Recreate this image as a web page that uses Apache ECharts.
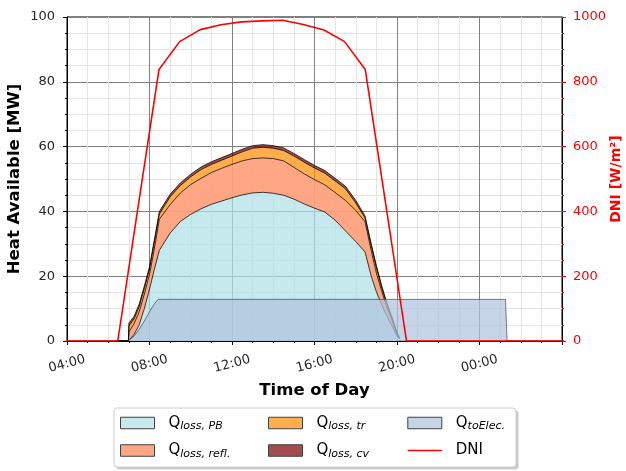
<!DOCTYPE html>
<html>
<head>
<meta charset="utf-8">
<script src="https://cdn.jsdelivr.net/npm/echarts/dist/echarts.min.js"></script>
<style>
  html, body { margin: 0; padding: 0; background: #ffffff; }
  #chart { width: 626px; height: 471px; }
</style>
</head>
<body>
<div id="chart"></div>
<script>
// Time of day in hours (values past 24 belong to the next day)
const heatHours = [6.46, 6.98, 7.0, 7.25, 7.5, 7.75, 8.0, 8.25, 8.48, 9.0, 9.5, 10.0, 10.5, 11.0, 11.5, 12.0,
  12.5, 13.0, 13.5, 14.0, 14.5, 15.0, 15.5, 16.0, 16.5, 17.0, 17.5, 18.0, 18.45, 18.75, 19.0, 19.25, 19.5,
  19.75, 20.0, 20.12];

// Stacked heat layers [MW]
const qLossPB = [0, 0, 0.3, 2.0, 5.0, 10.0, 16.0, 22.5, 28.0, 33.3, 36.9, 39.1, 40.8, 42.2, 43.2, 44.2,
  45.1, 45.7, 45.9, 45.6, 45.0, 43.8, 42.3, 41.0, 39.8, 37.3, 34.0, 30.7, 27.5, 20.0, 15.2, 11.3, 7.8,
  4.8, 1.6, 0.6];
const qLossRefl = [0, 0, 2.5, 3.3, 4.0, 4.5, 4.5, 6.5, 9.6, 8.8, 8.8, 9.2, 9.4, 9.8, 10.1, 10.3,
  10.5, 10.6, 10.6, 10.7, 10.6, 9.8, 9.3, 8.8, 8.4, 8.5, 9.4, 9.6, 9.3, 7.8, 5.8, 4.2, 2.8,
  1.8, 0.5, 0.2];
const qLossTr = [0, 0, 1.8, 1.5, 1.6, 1.7, 1.7, 2.0, 1.6, 2.4, 2.3, 2.4, 2.7, 2.5, 2.5, 2.6,
  2.8, 3.2, 3.3, 3.2, 3.2, 3.5, 3.6, 3.6, 3.6, 3.6, 3.6, 2.3, 1.2, 1.5, 1.6, 1.2, 0.8,
  0.5, 0.3, 0.1];
const qLossCv = [0, 0, 0.9, 0.8, 0.8, 0.8, 0.8, 0.8, 0.8, 0.8, 0.8, 0.8, 0.8, 0.8, 0.8, 0.8,
  0.8, 0.8, 0.8, 0.8, 0.8, 0.8, 0.8, 0.8, 0.8, 0.8, 0.8, 0.8, 0.6, 0.7, 0.7, 0.6, 0.5,
  0.4, 0.2, 0.1];

// Heat sent to electricity production [MW]
const elecHours = [6.95, 7.25, 7.5, 7.75, 8.0, 8.25, 8.42, 25.26, 25.34];
const qToElec = [0, 1.5, 3.6, 6.2, 9.0, 11.6, 12.85, 12.85, 0];

// Direct normal irradiance [W/m²]
const dniHours = [3.46, 4.46, 5.46, 6.46, 7.46, 8.46, 9.46, 10.46, 11.46, 12.46, 13.46, 14.46, 15.46,
  16.46, 17.46, 18.46, 19.46, 20.46, 21.46, 22.46, 23.46, 24.46, 25.46, 26.46, 27.46, 28.46];
const dniValues = [0, 0, 0, 0, 420, 838, 924, 961, 976, 985, 988, 990, 977,
  960, 924, 838, 419, 0, 0, 0, 0, 0, 0, 0, 0, 0];

// Axis tick labels
const xTickLabels = ['04:00', '08:00', '12:00', '16:00', '20:00', '00:00', '04:00'];

const FONT = 'DejaVu Sans';
const COLORS = {
  pb: 'rgba(176,224,230,0.72)',
  refl: 'rgba(255,160,122,0.92)',
  tr: 'rgba(255,140,0,0.7)',
  cv: 'rgba(128,10,10,0.72)',
  elec: 'rgba(176,196,222,0.72)',
  dni: '#ff0000'
};

// rows are [value, hour] so that the stack is applied on the value (y) dimension
function rows(values, hours) {
  return values.map((v, i) => [v, hours[i]]);
}

function stackLayer(name, values, fill) {
  return {
    name: name,
    type: 'line',
    stack: 'heat',
    data: rows(values, heatHours),
    encode: { x: 1, y: 0 },
    symbol: 'none',
    showSymbol: false,
    smooth: false,
    color: fill,
    lineStyle: { color: '#000000', width: 1, opacity: 0.75 },
    areaStyle: { color: fill, opacity: 1 },
    emphasis: { disabled: true },
    silent: true,
    z: 2
  };
}

const legendText = {
  'Qloss,PB': '{q|Q}{s|loss, PB}',
  'Qloss,refl.': '{q|Q}{s|loss, refl.}',
  'Qloss,tr': '{q|Q}{s|loss, tr}',
  'Qloss,cv': '{q|Q}{s|loss, cv}',
  'QtoElec.': '{q|Q}{s|toElec.}',
  'DNI': '{q|DNI}'
};

const legendRich = {
  q: { fontFamily: FONT, fontSize: 15, color: '#000000', lineHeight: 18, padding: [0, 0, 0, 9] },
  s: { fontFamily: FONT, fontSize: 11, fontStyle: 'italic', color: '#000000', lineHeight: 11, verticalAlign: 'bottom' }
};

function legendColumn(left, items) {
  return {
    orient: 'vertical',
    left: left,
    top: 415.5,
    padding: 0,
    itemGap: 11,
    itemWidth: 34,
    itemHeight: 11.5,
    selectedMode: false,
    data: items,
    formatter: function (n) { return legendText[n]; },
    textStyle: { rich: legendRich }
  };
}

function boxItem(name, fill) {
  return { name: name, icon: 'rect', itemStyle: { color: fill, borderColor: '#404040', borderWidth: 1 } };
}

const option = {
  animation: false,
  backgroundColor: '#ffffff',
  grid: {
    left: 67, right: 64, top: 17, bottom: 130,
    show: true, borderColor: '#000000', borderWidth: 1, backgroundColor: 'rgba(0,0,0,0)',
    containLabel: false, outerBoundsMode: 'none'
  },
  xAxis: {
    type: 'value', min: 4, max: 28, interval: 4,
    axisLine: { show: true, onZero: false, lineStyle: { color: '#000000', width: 1 } },
    axisTick: { show: true, length: 4, lineStyle: { color: '#000000' } },
    minorTick: { show: true, splitNumber: 4, length: 2, lineStyle: { color: '#000000' } },
    axisLabel: {
      formatter: function (v) { return xTickLabels[Math.round((v - 4) / 4)]; },
      rotate: 15, align: 'center', verticalAlign: 'middle', margin: 23,
      fontFamily: FONT, fontSize: 13, color: '#262626',
      showMinLabel: true, showMaxLabel: false
    },
    splitLine: { show: true, lineStyle: { color: '#808080', width: 1 } },
    minorSplitLine: { show: true, lineStyle: { color: '#e4e4e4', width: 1 } },
    name: 'Time of Day', nameLocation: 'middle', nameGap: 41,
    nameTextStyle: { fontFamily: FONT, fontWeight: 'bold', fontSize: 16.5, color: '#000000' }
  },
  yAxis: [
    {
      type: 'value', min: 0, max: 100, interval: 20, position: 'left',
      axisLine: { show: true, lineStyle: { color: '#000000', width: 1 } },
      axisTick: { show: true, length: 4, lineStyle: { color: '#000000' } },
      minorTick: { show: true, splitNumber: 4, length: 2, lineStyle: { color: '#000000' } },
      axisLabel: { fontFamily: FONT, fontSize: 13, color: '#262626', margin: 12 },
      splitLine: { show: true, lineStyle: { color: '#808080', width: 1 } },
      minorSplitLine: { show: true, lineStyle: { color: '#e4e4e4', width: 1 } },
      name: 'Heat Available [MW]', nameLocation: 'middle', nameRotate: 90, nameGap: 44,
      nameMoveOverlap: false,
      nameTextStyle: { fontFamily: FONT, fontWeight: 'bold', fontSize: 16.5, color: '#000000' }
    },
    {
      type: 'value', min: 0, max: 1000, interval: 200, position: 'right',
      axisLine: { show: true, lineStyle: { color: '#000000', width: 1 } },
      axisTick: { show: true, length: 4, lineStyle: { color: '#ff0000' } },
      minorTick: { show: true, splitNumber: 4, length: 2, lineStyle: { color: '#ff0000' } },
      axisLabel: {
        fontFamily: FONT, fontSize: 13, color: '#ff0000', margin: 11,
        formatter: function (v) { return String(v); }
      },
      splitLine: { show: false },
      minorSplitLine: { show: false },
      name: 'DNI [W/m²]', nameLocation: 'middle', nameRotate: 90, nameGap: 47,
      nameMoveOverlap: false,
      nameTextStyle: { fontFamily: FONT, fontWeight: 'bold', fontSize: 14, color: '#ff0000' }
    }
  ],
  legend: [
    legendColumn(120, [boxItem('Qloss,PB', COLORS.pb), boxItem('Qloss,refl.', COLORS.refl)]),
    legendColumn(268, [boxItem('Qloss,tr', COLORS.tr), boxItem('Qloss,cv', COLORS.cv)]),
    legendColumn(407, [boxItem('QtoElec.', COLORS.elec),
      { name: 'DNI', itemStyle: { color: 'rgba(0,0,0,0)', borderWidth: 0 }, lineStyle: { color: COLORS.dni, width: 1.6 } }])
  ],
  graphic: [
    { type: 'rect', silent: true, z: 1, shape: { x: 116.5, y: 410.5, width: 402, height: 59, r: 3 },
      style: { fill: 'rgba(0,0,0,0.2)' } },
    { type: 'rect', silent: true, z: 2, shape: { x: 114, y: 408, width: 402, height: 59, r: 3 },
      style: { fill: '#ffffff', stroke: '#cccccc', lineWidth: 1 } }
  ],
  series: [
    stackLayer('Qloss,PB', qLossPB, COLORS.pb),
    stackLayer('Qloss,refl.', qLossRefl, COLORS.refl),
    stackLayer('Qloss,tr', qLossTr, COLORS.tr),
    stackLayer('Qloss,cv', qLossCv, COLORS.cv),
    {
      name: 'QtoElec.', type: 'line',
      data: rows(qToElec, elecHours), encode: { x: 1, y: 0 },
      symbol: 'none', showSymbol: false, color: COLORS.elec,
      lineStyle: { color: '#303030', width: 1, opacity: 0.6 },
      areaStyle: { color: COLORS.elec, opacity: 1 },
      emphasis: { disabled: true }, silent: true, z: 3
    },
    {
      name: 'DNI', type: 'line', yAxisIndex: 1,
      data: rows(dniValues, dniHours), encode: { x: 1, y: 0 },
      symbol: 'none', showSymbol: false, color: COLORS.dni,
      lineStyle: { color: COLORS.dni, width: 1.6 },
      emphasis: { disabled: true }, silent: true, z: 4
    }
  ]
};

const chart = echarts.init(document.getElementById('chart'), null, { renderer: 'canvas' });
chart.setOption(option);
</script>
</body>
</html>
